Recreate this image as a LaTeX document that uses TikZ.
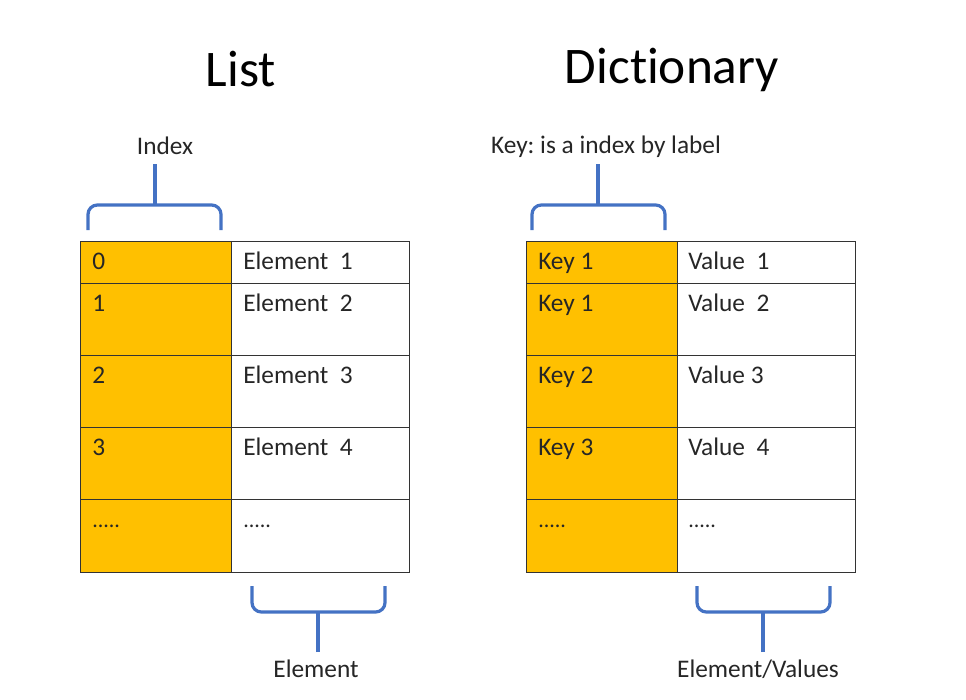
\documentclass[tikz,border=0pt]{standalone}
\usepackage{fontspec}
\setmainfont[Ligatures={NoCommon}]{Carlito}
\frenchspacing
\definecolor{brace}{HTML}{4472C4}
\definecolor{gold}{HTML}{FFC000}
\definecolor{grid}{HTML}{333333}
\definecolor{txt}{HTML}{262626}
\newcommand\myfivedots{{\fontsize{16.5}{18}\selectfont .....}}
\begin{document}
\begin{tikzpicture}[x=0.75pt,y=-0.75pt,
  cell/.style={draw=grid,line width=1.1pt,rectangle,anchor=north west,inner sep=0pt},
  keycell/.style={cell,fill=gold},
  valcell/.style={cell,fill=white},
  celltext/.style={anchor=base west,inner sep=0pt,font=\fontsize{19}{21}\selectfont,text=txt},
  labeltext/.style={anchor=base,inner sep=0pt,font=\fontsize{19}{21}\selectfont,text=txt},
  titletext/.style={anchor=base,inner sep=0pt,font=\fontsize{38.5}{44}\selectfont,text=black},
  bracestyle/.style={draw=brace,line width=2.4pt,rounded corners=7pt}
]
\useasboundingbox[fill=white] (0,0) rectangle (966,699);

% titles
\node[titletext] (tlist) at (241,86) {List};
\node[titletext] (tdict) at (672,84) {Dictionary};

% ---------- List table ----------
\foreach \t/\h/\i in {241/42/1,283/72/2,355/72/3,427/72/4,499/73/5}{
  \node[keycell,minimum width=151*0.75pt,minimum height=\h*0.75pt] (lk\i) at (80,\t) {};
  \node[valcell,minimum width=178*0.75pt,minimum height=\h*0.75pt] (lv\i) at (231,\t) {};
}
\foreach \t/\a/\b/\i in {241/0/{Element\ \ 1}/1,283/1/{Element\ \ 2}/2,355/2/{Element\ \ 3}/3,427/3/{Element\ \ 4}/4,499/{\myfivedots}/{\myfivedots}/5}{
  \node[celltext] (lkt\i) at (92,\t+28) {\a};
  \node[celltext] (lvt\i) at (243,\t+28) {\b};
}

% ---------- Dictionary table ----------
\foreach \t/\h/\i in {241/42/1,283/72/2,355/72/3,427/72/4,499/73/5}{
  \node[keycell,minimum width=151*0.75pt,minimum height=\h*0.75pt] (dk\i) at (526,\t) {};
  \node[valcell,minimum width=178*0.75pt,minimum height=\h*0.75pt] (dv\i) at (677,\t) {};
}
\foreach \t/\a/\b/\i in {241/{Key 1}/{Value\ \ 1}/1,283/{Key 1}/{Value\ \ 2}/2,355/{Key 2}/{Value 3}/3,427/{Key 3}/{Value\ \ 4}/4,499/{\myfivedots}/{\myfivedots}/5}{
  \node[celltext] (dkt\i) at (538,\t+28) {\a};
  \node[celltext] (dvt\i) at (688,\t+28) {\b};
}

% ---------- labels ----------
\node[labeltext] (lindex) at (165,154) {Index};
\node[labeltext] (lkey) at (606,153) {Key: is a index by label};
\node[labeltext] (lelem) at (316,677) {Element};
\node[labeltext] (lvals) at (758,677) {Element/Values};

% ---------- braces ----------
\coordinate (b1a) at (88,230);  \coordinate (b1b) at (221,230);
\coordinate (b1m) at (155,205); \coordinate (b1t) at (155,164);
\draw[bracestyle] (b1a) |- (b1m) -| (b1b);
\draw[bracestyle] (b1t) -- (b1m);

\coordinate (b2a) at (532,230);  \coordinate (b2b) at (665,230);
\coordinate (b2m) at (598,205);  \coordinate (b2t) at (598,164);
\draw[bracestyle] (b2a) |- (b2m) -| (b2b);
\draw[bracestyle] (b2t) -- (b2m);

\coordinate (b3a) at (252,586);  \coordinate (b3b) at (385,586);
\coordinate (b3m) at (318,612);  \coordinate (b3t) at (318,652);
\draw[bracestyle] (b3a) |- (b3m) -| (b3b);
\draw[bracestyle] (b3t) -- (b3m);

\coordinate (b4a) at (697,586);  \coordinate (b4b) at (830,586);
\coordinate (b4m) at (763,612);  \coordinate (b4t) at (763,652);
\draw[bracestyle] (b4a) |- (b4m) -| (b4b);
\draw[bracestyle] (b4t) -- (b4m);
\end{tikzpicture}
\end{document}
